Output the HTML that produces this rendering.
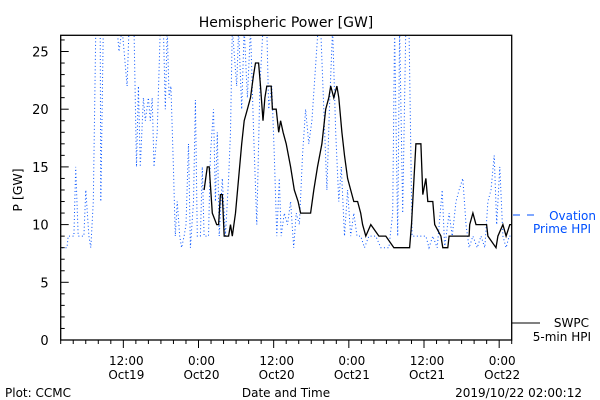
<!DOCTYPE html>
<html><head><meta charset="utf-8">
<style>
body{margin:0;background:#fff;}
svg{display:block;font-family:"DejaVu Sans","Liberation Sans",sans-serif;}
</style></head>
<body>
<svg id="chart" width="600" height="400" viewBox="0 0 600 400">
<rect width="600" height="400" fill="#fff"/>
<text x="286" y="27" text-anchor="middle" font-size="14">Hemispheric Power [GW]</text>
<text transform="translate(22,190) rotate(-90)" text-anchor="middle" font-size="12.5">P [GW]</text>
<text x="5" y="397" font-size="12">Plot: CCMC</text>
<text x="286" y="397" text-anchor="middle" font-size="12">Date and Time</text>
<text x="582" y="397" text-anchor="end" font-size="12">2019/10/22 02:00:12</text>
<g>
<line x1="513" y1="215" x2="541" y2="215" stroke="#0050ff" stroke-width="1" stroke-dasharray="7 7"/>
<text x="596" y="220" text-anchor="end" font-size="12" fill="#0050ff">Ovation</text>
<text x="591" y="233" text-anchor="end" font-size="12" fill="#0050ff">Prime HPI</text>
</g>
<g>
<line x1="512" y1="323" x2="540" y2="323" stroke="#000"/>
<text x="589" y="327" text-anchor="end" font-size="12">SWPC</text>
<text x="591" y="341" text-anchor="end" font-size="12">5-min HPI</text>
</g>
<g id="plot"></g>
</svg>
<script>
const yTicks=[0,5,10,15,20,25];
const xTickHours=[10,22,34,46,58,70];
const xTickLabels1=["12:00","0:00","12:00","0:00","12:00","0:00"];
const xTickLabels2=["Oct19","Oct20","Oct20","Oct21","Oct21","Oct22"];
const ovT=[0.2,1.0,1.2,2.1,2.4,2.8,3.7,4.0,4.5,4.8,5.2,5.6,6.3,6.4,6.8,9.0,9.3,9.8,10.6,10.9,11.7,12.1,12.4,12.7,13.2,13.5,14.0,14.3,14.6,14.9,15.4,15.9,16.4,16.7,17.0,17.3,17.6,18.0,18.3,18.6,19.0,19.3,19.7,20.0,20.4,20.7,21.2,21.5,21.8,22.3,22.6,22.9,23.6,23.9,24.4,24.7,25.0,25.3,25.8,26.3,26.8,27.1,27.4,28.1,28.4,28.9,29.3,29.8,30.3,30.8,31.3,31.8,32.3,32.9,33.2,33.7,34.1,34.5,34.9,35.2,35.7,36.2,36.7,37.2,37.6,38.1,38.6,39.1,39.6,40.1,40.6,41.1,41.5,42.0,42.5,42.9,43.4,43.9,44.4,44.8,45.3,45.8,46.3,46.8,47.3,47.9,48.5,49.2,50.3,51.1,52.4,53.0,53.3,53.8,54.1,54.6,55.1,55.6,56.1,57.5,58.3,58.8,59.4,60.1,60.9,61.3,62.0,62.5,63.1,63.6,64.2,64.7,65.2,65.8,66.5,67.1,67.7,68.2,68.7,69.2,69.6,70.1,70.6,71.1,71.6,72];
const ovV=[8,8,9,9,15,9,9,13,9,8,12,27,27,12,27,27,25,27,22,27,27,15,22,15,21,19,21,19,21,15,18,27,27,20,27,21,22,15,9,12,9,8,9,10,17,8,12,20.8,9,9,15,9,9,16,20,12,18,9,14,9,14,18,27,22,27,20,27,21,27,18,10,22,27,27,20,22,16,9,14,9,11,10,12,8,11,10,16,20,17,19,23,27,27,20,13,20,27,18,12,15,9,13,9,11,9,9,8,9,9,8,8,11,27,9,27,11,27,27,9,9,9,8,9,8,13,8,11,9,12,13,14,10,8,9,8,9,8,12,13,16,10,15,9,8,9,9];
const hpiT=[22.9,23.4,23.7,24.2,24.9,25.2,25.5,25.8,26.1,26.8,27.1,27.4,27.9,28.4,28.9,29.3,29.8,30.3,30.8,31.1,31.6,31.9,32.3,32.6,32.9,33.6,33.8,34.4,34.8,35.1,35.5,36.0,36.7,37.3,37.9,38.3,39.9,40.4,41.0,41.7,42.3,42.8,43.1,43.6,44.1,44.4,44.9,45.3,45.8,46.3,46.8,47.4,47.9,48.2,48.7,49.5,50.8,51.9,53.2,55.7,56.0,56.4,56.7,57.5,57.8,58.3,58.6,59.4,59.7,60.7,61.0,61.8,62.0,65.2,65.3,65.8,66.3,68.0,68.2,69.5,69.8,70.6,71.1,71.7,72];
const hpiV=[13,15,15,11,10,10,12.6,12.6,9,9,10,9,11,14,17,19,20,21,23,24,24,22,19,21,22,22,20,20,18,19,18,17,15,13,12,11,11,13,15,17,20,21,22,21,22,21,18,16,14,13,12,12,11,10,9,10,9,9,8,8,10,14,17,17,12.6,14,12,12,10,9,8,8,9,9,10,11,10,10,9,8,9,10,9,10,10];

const L=60.7,R=511.7,T=35.3,B=340,HMAX=72,YMAX=(B-T)/11.54;
const xs=h=>L+(R-L)*h/HMAX;
const ys=v=>B-(B-T)*v/YMAX;
const NS="http://www.w3.org/2000/svg";
const plot=document.getElementById('plot');
function mk(tag,attrs,parent){const e=document.createElementNS(NS,tag);for(const k in attrs)e.setAttribute(k,attrs[k]);(parent||plot).appendChild(e);return e;}

const defs=mk('defs',{});
const cp=mk('clipPath',{id:'clip'},defs);
mk('rect',{x:L,y:T,width:R-L,height:B-T},cp);

function linePath(t,v){let d='';for(let i=0;i<t.length;i++){d+=(i?' L':'M')+xs(t[i]).toFixed(1)+','+ys(v[i]).toFixed(1);}return d;}
const ov=mk('path',{d:linePath(ovT,ovV),fill:'none',stroke:'#0050ff','stroke-width':1,'stroke-dasharray':'1 2.5','clip-path':'url(#clip)'});


const hp=mk('path',{d:linePath(hpiT,hpiV),fill:'none',stroke:'#000','stroke-width':1.3,'clip-path':'url(#clip)'});



const frame=mk('rect',{x:L,y:T,width:R-L,height:B-T,fill:'none',stroke:'#000','stroke-width':1.3});



for(let v=0;v<=26;v++){const y=ys(v);const big=v%5===0;mk('line',{x1:L,y1:y,x2:L+(big?8:4),y2:y,stroke:'#000'});}
yTicks.forEach(v=>{const t=mk('text',{x:L-12,y:ys(v)+5,'text-anchor':'end','font-size':13});t.textContent=v;

});
for(let h=0;h<=HMAX;h+=2){const x=xs(h);const big=(h-10)%12===0;mk('line',{x1:x,y1:B,x2:x,y2:B+(big?8:4),stroke:'#000'});}
xTickHours.forEach((h,i)=>{const a=mk('text',{x:xs(h)+3,y:B+25,'text-anchor':'middle','font-size':12});a.textContent=xTickLabels1[i];


const b=mk('text',{x:xs(h)+3,y:B+39,'text-anchor':'middle','font-size':12});b.textContent=xTickLabels2[i];

});
</script>
</body></html>
